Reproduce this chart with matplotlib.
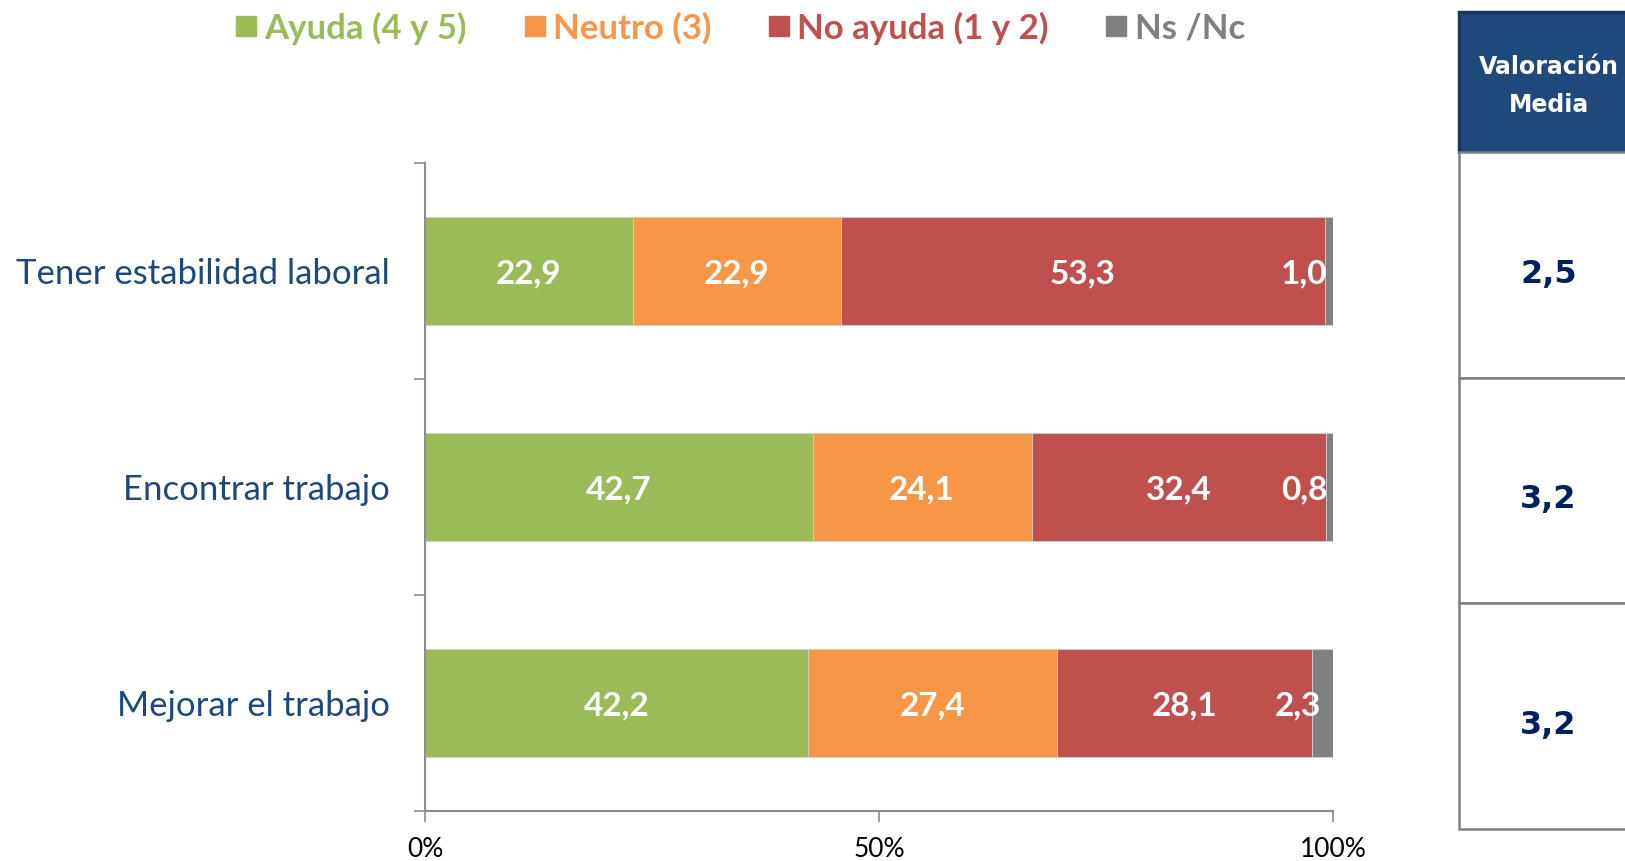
"""Valoración de la formación: barras apiladas al 100% con tabla de valoración media."""
import matplotlib.pyplot as plt
from matplotlib.lines import Line2D
from matplotlib.patches import Rectangle

categorias = ["Tener estabilidad laboral", "Encontrar trabajo", "Mejorar el trabajo"]
series = ["Ayuda (4 y 5)", "Neutro (3)", "No ayuda (1 y 2)", "Ns /Nc"]
ayuda = [22.9, 42.7, 42.2]
neutro = [22.9, 24.1, 27.4]
no_ayuda = [53.3, 32.4, 28.1]
ns_nc = [1.0, 0.8, 2.3]
valoracion_media = [2.5, 3.2, 3.2]
xticks = [0, 50, 100]
xtick_labels = ["0%", "50%", "100%"]

colores = ["#9BBB59", "#F79646", "#C0504D", "#808080"]
azul = "#1F497D"
gris_eje = "#8C8C8C"

plt.rcParams["font.family"] = ["Lato", "DejaVu Sans"]

fig = plt.figure(figsize=(16.25, 8.61), dpi=100)
ax = fig.add_axes([0.2615, 0.0581, 0.5588, 0.7526])

valores = [ayuda, neutro, no_ayuda, ns_nc]
izq = [0.0] * len(categorias)
for serie, vals, color in zip(series, valores, colores):
    ax.barh(range(len(categorias)), vals, left=izq, height=0.5, color=color,
            edgecolor="#D0D0D0", linewidth=0.6)
    for i, (l, v) in enumerate(zip(izq, vals)):
        txt = f"{v:.1f}".replace(".", ",")
        dx = -18 if serie == "Ns /Nc" else 0
        ax.annotate(txt, (l + v / 2, i), xytext=(dx, -2), textcoords="offset points",
                    ha="center", va="center", color="white", fontsize=24,
                    fontweight="bold")
    izq = [a + b for a, b in zip(izq, vals)]

ax.set_xlim(0, 100)
ax.set_ylim(len(categorias) - 0.5, -0.5)
ax.set_xticks(xticks)
ax.set_xticklabels(xtick_labels, fontsize=19)
ax.tick_params(axis="x", length=8, width=1.2, color=gris_eje, pad=11)

# separadores entre categorías como ticks mayores, nombres como menores
ax.set_yticks([i - 0.5 for i in range(len(categorias) + 1)])
ax.set_yticklabels([])
ax.set_yticks(range(len(categorias)), minor=True)
ax.set_yticklabels(categorias, minor=True, fontsize=25, color=azul)
ax.tick_params(axis="y", which="major", length=8, width=1.2, color=gris_eje)
ax.tick_params(axis="y", which="minor", length=0, pad=25)

for s in ["top", "right"]:
    ax.spines[s].set_visible(False)
for s in ["left", "bottom"]:
    ax.spines[s].set_color(gris_eje)
    ax.spines[s].set_linewidth(1.5)

# leyenda en la parte superior
handles = [Line2D([], [], marker="s", linestyle="", markersize=15, color=c) for c in colores]
fig.legend(handles, series, loc="center", bbox_to_anchor=(0.4545, 0.9675), ncol=4,
           frameon=False, labelcolor=colores, handletextpad=0.13, columnspacing=1.55,
           handlelength=0.8, prop={"weight": "bold", "size": 25})

# tabla de valoración media
x0 = 0.8978
filas_y = [0.8235, 0.561, 0.2997, 0.0372]
fig.patches.append(Rectangle((x0, 0.8235), 0.2, 0.986 - 0.8235, transform=fig.transFigure,
                             facecolor=azul, edgecolor="#17375E", linewidth=2.5))
fig.text(0.953, 0.9, "Valoración\nMedia", ha="center", va="center", color="white",
         fontsize=17, fontweight="bold", family="DejaVu Sans", linespacing=1.75)
for y0, y1 in zip(filas_y[:-1], filas_y[1:]):
    fig.patches.append(Rectangle((x0, y1), 0.2, y0 - y1, transform=fig.transFigure,
                                 facecolor="white", edgecolor="#7F7F7F", linewidth=1.8))
centros_y = [0.681, 0.4202, 0.1577]
for yc, v in zip(centros_y, valoracion_media):
    fig.text(0.953, yc, f"{v:.1f}".replace(".", ","), ha="center", va="center",
             color="#002060", fontsize=23, fontweight="bold", family="DejaVu Sans")

fig.savefig("out.png", dpi=100)
